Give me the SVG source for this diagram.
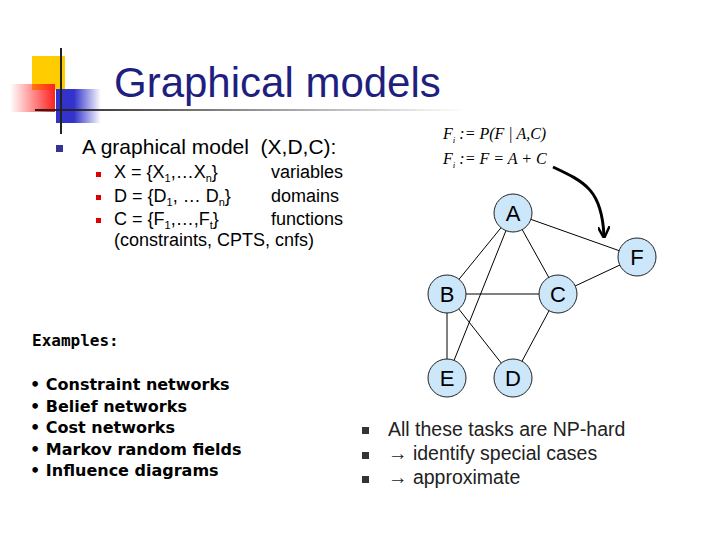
<svg xmlns="http://www.w3.org/2000/svg" width="720" height="540" viewBox="0 0 720 540">
<defs>
<linearGradient id="rl" x1="1" y1="0" x2="0" y2="0"><stop offset="0" stop-color="#ff2020"/><stop offset="1" stop-color="#ff2020" stop-opacity="0"/></linearGradient>
<linearGradient id="bl" x1="0" y1="0" x2="1" y2="0"><stop offset="0.4" stop-color="#3333cc"/><stop offset="1" stop-color="#3333cc" stop-opacity="0"/></linearGradient>
<linearGradient id="hl" x1="0" y1="0" x2="1" y2="0"><stop offset="0" stop-color="#222"/><stop offset="1" stop-color="#222" stop-opacity="0"/></linearGradient>
<marker id="ah" viewBox="0 0 10 10" refX="8" refY="5" markerWidth="4" markerHeight="4" orient="auto"><path d="M0,0 L10,5 L0,10" fill="none" stroke="#000" stroke-width="2"/></marker>
<style>
.t{font-family:"Liberation Sans",Arial,sans-serif;fill:#000}
.m{font-family:"Liberation Serif",serif;font-style:italic;font-size:16px}
.n{fill:#cce6fa;stroke:#222;stroke-width:1}
.nl{font-family:"Liberation Sans",Arial,sans-serif;font-size:22px;text-anchor:middle}
.e{stroke:#000;stroke-width:1;fill:none}
.b{font-family:"DejaVu Sans",sans-serif;font-weight:bold;font-size:16px}
</style>
</defs>
<rect width="720" height="540" fill="#fff"/>
<rect x="32" y="56" width="33" height="34" fill="#ffcc00"/>
<rect x="56" y="89" width="45" height="34" fill="url(#bl)"/>
<rect x="10" y="84" width="45" height="28" fill="url(#rl)"/>
<rect x="60" y="48" width="2" height="86" fill="#222"/>
<rect x="35" y="109" width="430" height="2" fill="url(#hl)"/>
<text class="t" x="114" y="97" font-size="42" style="fill:#1f1f80">Graphical models</text>
<rect x="56" y="145" width="7" height="7" fill="#333399"/>
<text class="t" x="82" y="154" font-size="21" xml:space="preserve">A graphical model  (X,D,C):</text>
<g class="t" font-size="18">
<rect x="96" y="172" width="5" height="5" fill="#e00000"/>
<text x="114" y="178">X = {X<tspan font-size="11" dy="4">1</tspan><tspan dy="-4">,…X</tspan><tspan font-size="11" dy="4">n</tspan><tspan dy="-4">}</tspan></text>
<text x="271" y="178">variables</text>
<rect x="96" y="195" width="5" height="5" fill="#e00000"/>
<text x="114" y="202">D = {D<tspan font-size="11" dy="4">1</tspan><tspan dy="-4">, … D</tspan><tspan font-size="11" dy="4">n</tspan><tspan dy="-4">}</tspan></text>
<text x="271" y="202">domains</text>
<rect x="96" y="218" width="5" height="5" fill="#e00000"/>
<text x="114" y="225">C = {F<tspan font-size="11" dy="4">1</tspan><tspan dy="-4">,…,F</tspan><tspan font-size="11" dy="4">t</tspan><tspan dy="-4">}</tspan></text>
<text x="271" y="225">functions</text>
<text x="114" y="246">(constraints, CPTS, cnfs)</text>
</g>
<text class="m" x="443" y="139">F<tspan font-size="9" dy="4">i</tspan><tspan dy="-4"> := P(F | A,C)</tspan></text>
<text class="m" x="443" y="164">F<tspan font-size="9" dy="4">i</tspan><tspan dy="-4"> := F = A + C</tspan></text>
<g id="connectors">
<path class="e" d="M513,213 L447,294 M513,213 L447,378 M513,213 L558,294 M513,213 L637,257 M637,257 L558,294 M447,294 L558,294 M447,294 L447,378 M447,294 L513,378 M558,294 L513,378"/>
<path d="M553,167 C585,182 602,190 604,236" fill="none" stroke="#000" stroke-width="3" marker-end="url(#ah)"/>
</g>
<g id="A"><circle class="n" cx="513" cy="213" r="19"/><text class="nl" x="513" y="221">A</text></g>
<g id="F"><circle class="n" cx="637" cy="257" r="19"/><text class="nl" x="637" y="265">F</text></g>
<g id="B"><circle class="n" cx="447" cy="294" r="19"/><text class="nl" x="447" y="302">B</text></g>
<g id="C"><circle class="n" cx="558" cy="294" r="19"/><text class="nl" x="558" y="302">C</text></g>
<g id="E"><circle class="n" cx="447" cy="378" r="19"/><text class="nl" x="447" y="386">E</text></g>
<g id="D"><circle class="n" cx="513" cy="378" r="19"/><text class="nl" x="513" y="386">D</text></g>
<text class="b" x="32" y="346" font-size="15" style="font-family:'DejaVu Sans Mono','Liberation Mono',monospace">Examples:</text>
<g class="b">
<text x="30" y="390">• Constraint networks</text>
<text x="30" y="412">• Belief networks</text>
<text x="30" y="433">• Cost networks</text>
<text x="30" y="455">• Markov random fields</text>
<text x="30" y="476">• Influence diagrams</text>
</g>
<g class="t" font-size="19.5" style="fill:#222">
<rect x="362" y="427" width="7" height="7" fill="#333"/>
<rect x="362" y="452" width="7" height="7" fill="#333"/>
<rect x="362" y="476" width="7" height="7" fill="#333"/>
<text x="388" y="436">All these tasks are NP-hard</text>
<text x="388" y="460">→ identify special cases</text>
<text x="388" y="484">→ approximate</text>
</g>
</svg>
